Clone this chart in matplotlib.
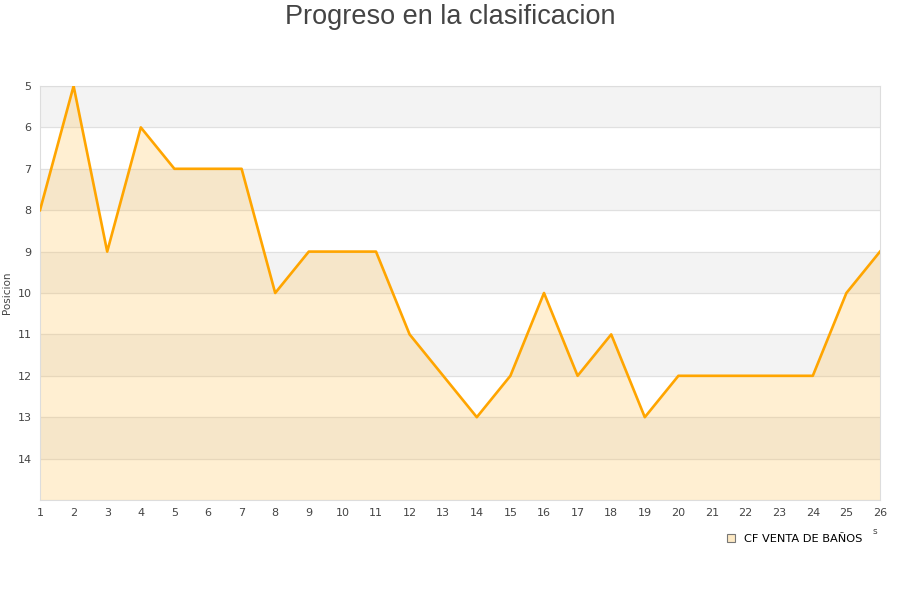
import numpy as np
import matplotlib.pyplot as plt
from matplotlib.patches import Patch

jornadas = list(range(1, 27))
posicion = [8, 5, 9, 6, 7, 7, 7, 10, 9, 9, 9, 11, 12, 13, 12, 10, 12, 11, 13, 12,
            12, 12, 12, 12, 10, 9]
equipo = "CF VENTA DE BAÑOS"
y_ticks = list(range(5, 15))

fig = plt.figure(figsize=(9, 6), dpi=100)
ax = fig.add_axes([40 / 900, 100 / 600, 840 / 900, 414 / 600])

# bandas alternas
for y0 in range(5, 15, 2):
    ax.axhspan(y0, y0 + 1, color='#f3f3f3', zorder=0)
for y in range(5, 16):
    ax.axhline(y, color='#e0e0e0', lw=0.8, zorder=1)

ax.fill_between(jornadas, posicion, 15, color='#ffc04d', alpha=0.25, lw=0, zorder=2)
ax.plot(jornadas, posicion, color='#ffa500', lw=1.9, zorder=3)

ax.set_xlim(1, 26)
ax.set_ylim(15, 5)
ax.set_xticks(jornadas)
ax.set_yticks(y_ticks)
ax.tick_params(length=0, labelsize=8, colors='#444444', pad=6)
for s in ax.spines.values():
    s.set_color('#dddddd')
ax.set_ylabel('Posicion', fontsize=7.5, color='#444444', labelpad=4)

fig.text(0.5, 1 - 17 / 600, 'Progreso en la clasificacion', fontsize=19.5,
         family='Liberation Sans', color='#444444', ha='center', va='center')

handles = [Patch(facecolor='#fde9c4', edgecolor='#777777', lw=0.8, label=equipo)]
fig.legend(handles=handles, loc='center', bbox_to_anchor=(795 / 900, 1 - 539 / 600),
           frameon=False, fontsize=8.2, handlelength=0.7, handleheight=0.7)
fig.text(875 / 900, 1 - 531 / 600, 's', fontsize=6.5, color='#444444', ha='center', va='center')

fig.savefig('out.png', dpi=100)
